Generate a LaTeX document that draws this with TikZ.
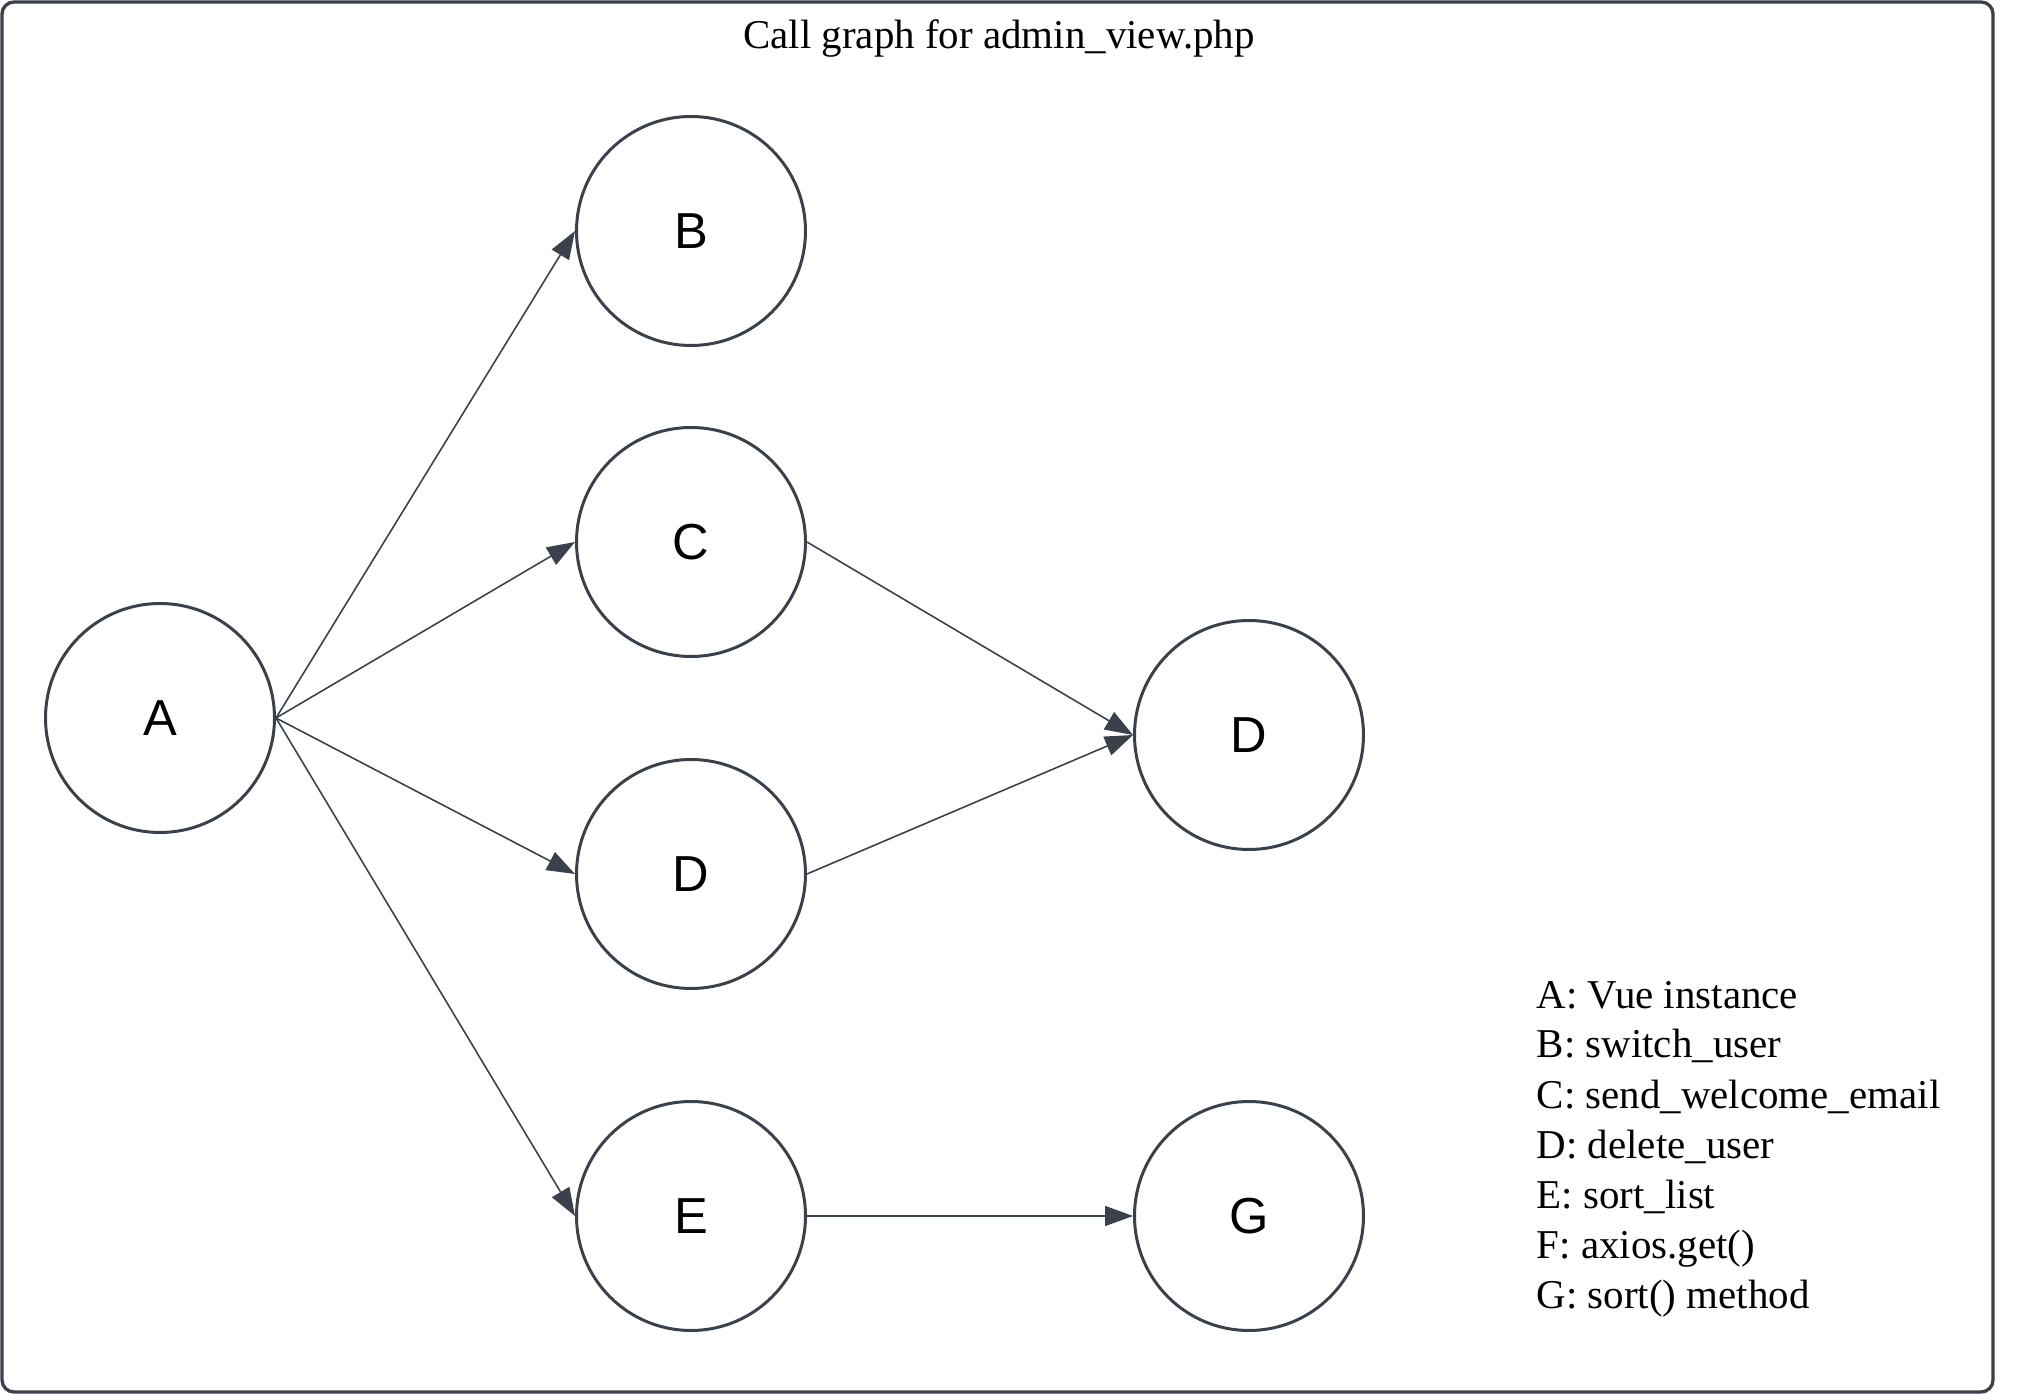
\documentclass[tikz,border=0pt]{standalone}
\usepackage{fontspec}
\setmainfont{Liberation Serif}
\newfontfamily\labelfont{Liberation Sans}
\usetikzlibrary{arrows.meta}
\definecolor{edgegray}{HTML}{3A414A}

\begin{document}
\begin{tikzpicture}[
    fn/.style={draw=edgegray, shape=circle, line width=0.85pt, minimum size=2.29cm, inner sep=0pt, font=\labelfont\fontsize{14.4}{17}\selectfont},
    call/.style={draw=edgegray, line width=0.45pt, -{Triangle[length=0.28cm, width=0.2cm]}},
    txt/.style={font=\fontsize{11.65}{14}\selectfont, inner sep=0pt}
]
    \useasboundingbox (0,0) rectangle (20.23,-13.95);
    \draw[edgegray, line width=0.95pt, rounded corners=0.12cm] (0.02,-0.02) rectangle (19.93,-13.92);
    \node[txt, anchor=base] (title) at (9.99,-0.49) {Call graph for admin\_view.php};

    \node[fn] (A) at (1.60,-7.18) {A};
    \node[fn] (B) at (6.91,-2.31) {B};
    \node[fn] (C) at (6.91,-5.42) {C};
    \node[fn] (D) at (6.91,-8.74) {D};
    \node[fn] (E) at (6.91,-12.16) {E};
    \node[fn] (D2) at (12.49,-7.35) {D};
    \node[fn] (G) at (12.49,-12.16) {G};

    \draw[call] (A.east) -- (B.west);
    \draw[call] (A.east) -- (C.west);
    \draw[call] (A.east) -- (D.west);
    \draw[call] (A.east) -- (E.west);
    \draw[call] (C.east) -- (D2.west);
    \draw[call] (D.east) -- (D2.west);
    \draw[call] (E.east) -- (G.west);

    % legend
    \foreach \line [count=\i] in {A: Vue instance, B: switch\_user, C: send\_welcome\_email, D: delete\_user, E: sort\_list, F: axios.get(), G: sort() method}
        \node[txt, anchor=base west] (key\i) at (15.36,{-10.08-0.5*(\i-1)}) {\line};
\end{tikzpicture}
\end{document}
